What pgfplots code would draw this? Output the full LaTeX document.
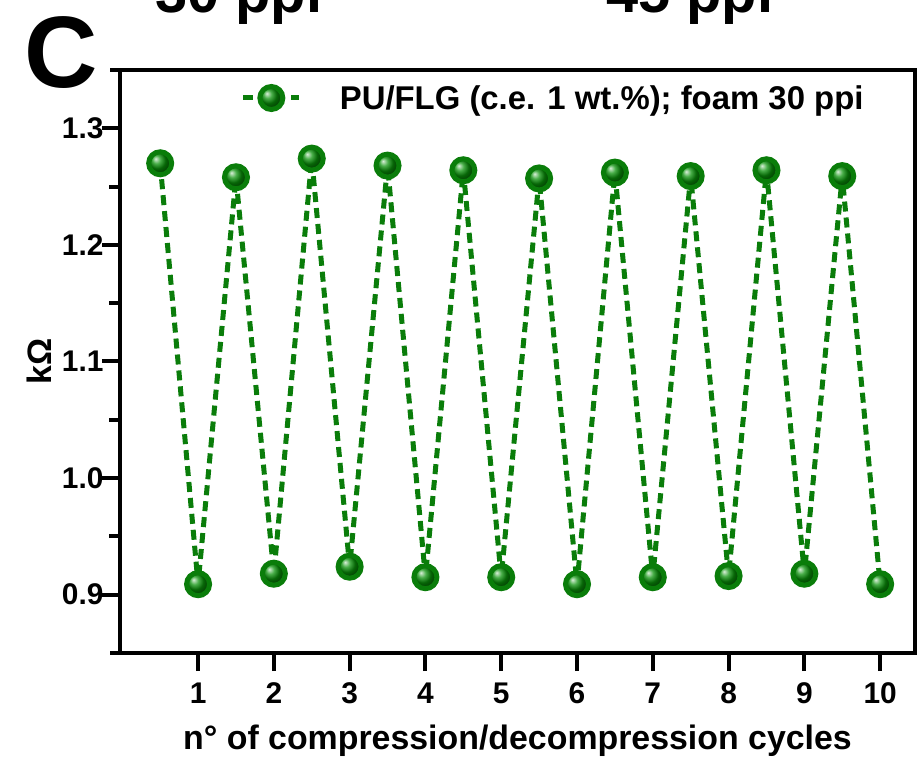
\documentclass[border=0pt]{standalone}
\usepackage{pgfplots}
\pgfplotsset{compat=1.18}
\usepackage{fontspec}
\setmainfont{Liberation Sans}
\usetikzlibrary{shadings}
\definecolor{lgreen}{RGB}{10,125,10}
\begin{document}
\begin{tikzpicture}
\useasboundingbox (0bp,0bp) rectangle (917bp,762bp);
\node[anchor=base west,font=\fontsize{58}{60}\selectfont\bfseries,inner sep=0] at (155bp,749bp) {30 ppi};
\node[anchor=base west,font=\fontsize{58}{60}\selectfont\bfseries,inner sep=0] at (606bp,749bp) {45 ppi};
\node[anchor=center,font=\fontsize{102}{106}\selectfont\bfseries,inner sep=0] at (61bp,709bp) {C};
\begin{axis}[
  at={(120bp,109bp)}, anchor=south west,
  scale only axis, width=795bp, height=583bp,
  xmin=-0.03, xmax=10.46, ymin=0.85, ymax=1.35,
  axis x line*=bottom, axis y line*=left,
  axis line style={line width=4.5bp, -},
  xtick={1,...,10}, ytick={0.9,1.0,1.1,1.2,1.3},
  minor ytick={0.95,1.05,1.15,1.25},
  tick align=outside,
  major tick length=18bp, minor tick length=11bp,
  tick style={line width=4bp, black},
  yticklabel style={xshift=5bp, /pgf/number format/.cd, fixed, fixed zerofill, precision=1},
  /pgf/number format/assume math mode=true,
  tick label style={font=\fontsize{30}{32}\selectfont\bfseries},
  xticklabel style={yshift=-8bp},
  xlabel={n° of compression/decompression cycles},
  ylabel={kΩ},
  xlabel style={font=\fontsize{34}{36}\selectfont\bfseries, yshift=-14bp},
  ylabel style={font=\fontsize{34}{36}\selectfont\bfseries, yshift=4bp},
  legend style={at={(0.148,0.952)}, anchor=west, draw=none, fill=none,
    font=\fontsize{33}{35}\selectfont\bfseries},
  legend image code/.code={\draw[#1, mark repeat=2, mark phase=2] plot coordinates {(0bp,0bp)(28bp,0bp)(56bp,0bp)}; \path (92bp,0bp);},
  clip=false,
]
\draw[line width=4.5bp] (rel axis cs:-0.012,1) -- (rel axis cs:1,1) -- (rel axis cs:1,0) -- (rel axis cs:-0.012,0);
\addplot[lgreen, line width=5bp, dash pattern=on 10bp off 6bp,
  mark=ball, mark size=11.5bp, mark options={solid, ball color=lgreen!85!green}]
  coordinates {
  (0.5,1.270) (1,0.909) (1.5,1.258) (2,0.918) (2.5,1.274) (3,0.924)
  (3.5,1.268) (4,0.915) (4.5,1.264) (5,0.915) (5.5,1.257) (6,0.909)
  (6.5,1.262) (7,0.915) (7.5,1.259) (8,0.916) (8.5,1.264) (9,0.918)
  (9.5,1.259) (10,0.909)
  };
\addlegendentry{PU/FLG (c.e. 1 wt.\%); foam 30 ppi}
\end{axis}
\end{tikzpicture}
\end{document}
